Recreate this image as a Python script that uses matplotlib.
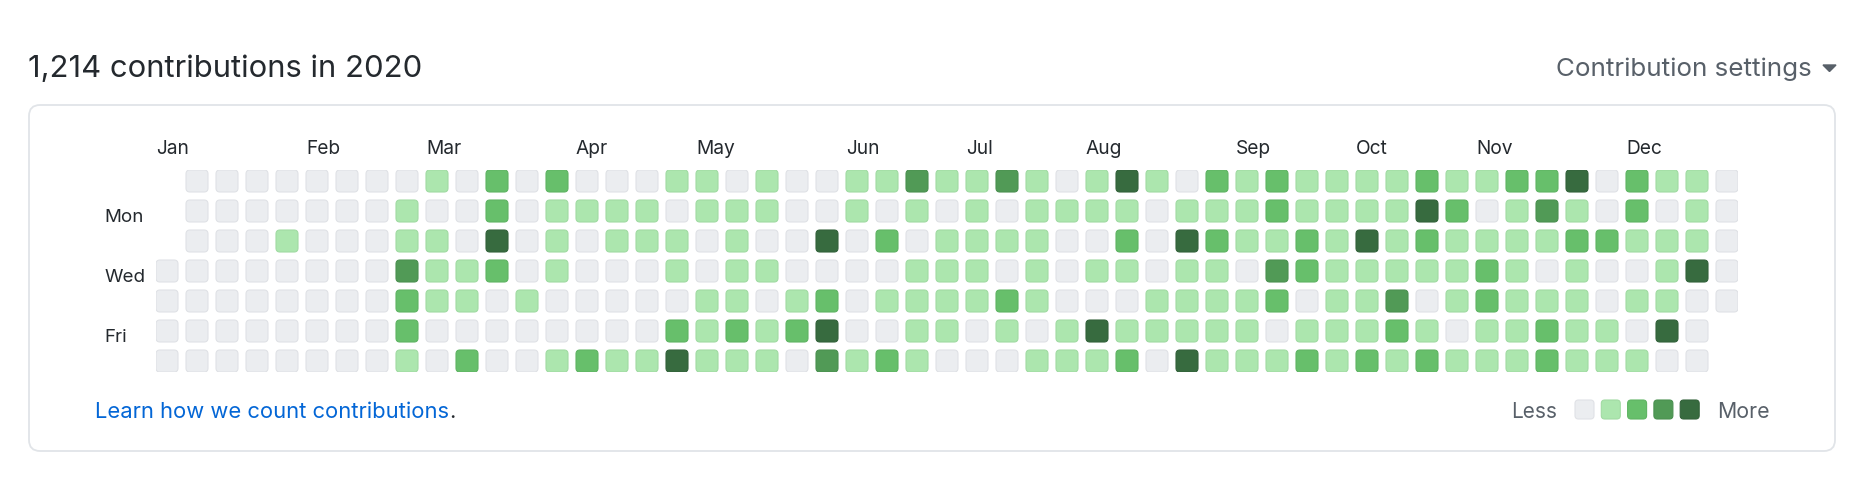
import matplotlib
matplotlib.use("Agg")
import matplotlib.pyplot as plt
from matplotlib.patches import FancyBboxPatch

plt.rcParams['font.family'] = ['Inter', 'DejaVu Sans']

# contribution level per weekday row, one entry per week column (None = no day)
sun = [None, 0, 0, 0, 0, 0, 0, 0, 0, 1, 0, 2, 0, 2, 0, 0, 0, 1, 1, 0, 1, 0, 0, 1, 1, 3, 1,
       1, 3, 1, 0, 1, 4, 1, 0, 2, 1, 2, 1, 1, 1, 1, 2, 1, 1, 2, 2, 4, 0, 2, 1, 1, 0]
mon = [None, 0, 0, 0, 0, 0, 0, 0, 1, 0, 0, 2, 0, 1, 1, 1, 1, 0, 1, 1, 1, 0, 0, 1, 0, 1, 0,
       1, 0, 1, 1, 1, 1, 0, 1, 1, 1, 2, 1, 1, 1, 1, 4, 2, 0, 1, 3, 1, 0, 2, 0, 1, 0]
tue = [None, 0, 0, 0, 1, 0, 0, 0, 1, 1, 0, 4, 0, 1, 0, 1, 1, 1, 0, 1, 0, 0, 4, 0, 2, 0, 1,
       1, 1, 1, 0, 0, 2, 0, 4, 2, 1, 1, 2, 1, 4, 1, 2, 1, 1, 1, 1, 2, 2, 1, 1, 1, 0]
wed = [0, 0, 0, 0, 0, 0, 0, 0, 3, 1, 1, 2, 0, 1, 0, 0, 0, 1, 0, 1, 1, 0, 0, 0, 0, 1, 1,
       1, 0, 1, 0, 1, 1, 0, 1, 1, 0, 3, 2, 1, 1, 1, 1, 1, 2, 1, 0, 1, 0, 0, 1, 4, 0]
thu = [0, 0, 0, 0, 0, 0, 0, 0, 2, 1, 1, 0, 1, 0, 0, 0, 0, 0, 1, 1, 0, 1, 2, 0, 1, 1, 1,
       1, 2, 1, 0, 0, 0, 1, 1, 1, 1, 2, 0, 1, 1, 3, 0, 1, 2, 1, 1, 1, 0, 1, 1, 0, 0]
fri = [0, 0, 0, 0, 0, 0, 0, 0, 2, 0, 0, 0, 0, 0, 0, 0, 0, 2, 1, 2, 1, 2, 4, 0, 0, 1, 1,
       0, 1, 0, 1, 4, 1, 1, 1, 1, 1, 0, 1, 1, 1, 2, 1, 0, 1, 1, 2, 1, 1, 0, 4, 0, None]
sat = [0, 0, 0, 0, 0, 0, 0, 0, 1, 0, 2, 0, 0, 1, 2, 1, 1, 4, 1, 1, 1, 0, 3, 1, 2, 1, 0,
       0, 0, 1, 1, 1, 2, 0, 4, 1, 1, 1, 2, 1, 2, 1, 2, 1, 1, 1, 2, 1, 1, 1, 0, 0, None]

months = ['Jan', 'Feb', 'Mar', 'Apr', 'May', 'Jun', 'Jul', 'Aug', 'Sep', 'Oct', 'Nov', 'Dec']
month_weeks = [0, 5, 9, 14, 18, 23, 27, 31, 36, 40, 44, 49]
day_labels = ['Mon', 'Wed', 'Fri']
day_rows = [1, 3, 5]

total = '1,214'
year = 2020

level_colors = ['#ebedf0', '#ace6ae', '#67bf6b', '#519a56', '#376b3f']
edge_colors = ['#e0e2e6', '#a1dba3', '#5fb463', '#4a9050', '#32623a']

W, H = 1870, 490
fig = plt.figure(figsize=(W / 100, H / 100), dpi=100)

# background axes in pixel units for the page furniture
bg = fig.add_axes([0, 0, 1, 1])
bg.set_xlim(0, W)
bg.set_ylim(H, 0)
bg.axis('off')

bg.text(28, 77, f'{total} contributions in {year}', fontsize=22.3, color='#24292e',
        ha='left', va='baseline')
bg.text(1812, 76, 'Contribution settings', fontsize=18.7, color='#586069',
        ha='right', va='baseline')
bg.fill([1823, 1836, 1829.5], [65, 65, 71.5], color='#586069')

box = FancyBboxPatch((29, 105), 1835 - 29, 451 - 105,
                     boxstyle='round,pad=0,rounding_size=11',
                     facecolor='white', edgecolor='#e1e4e8', linewidth=1.3)
bg.add_patch(box)

link = bg.text(95, 418, 'Learn how we count contributions', fontsize=15.8, color='#0366d6',
               ha='left', va='baseline')
fig.canvas.draw()
ext = link.get_window_extent()
link_end = bg.transData.inverted().transform((ext.x1, ext.y0))[0]
bg.text(link_end, 418, '.', fontsize=15.8, color='#24292e', ha='left', va='baseline')

# legend
bg.text(1557, 418, 'Less', fontsize=15, color='#586069', ha='right', va='baseline')
for i, (fc, ec) in enumerate(zip(level_colors, edge_colors)):
    bg.add_patch(FancyBboxPatch((1575 + 26.3 * i, 400), 19, 19,
                                boxstyle='round,pad=0,rounding_size=3.5',
                                facecolor=fc, edgecolor=ec, linewidth=0.8))
bg.text(1717, 418, 'More', fontsize=15.3, color='#586069', ha='left', va='baseline')

# calendar grid: 1 data unit = one 30px cell pitch
pitch, cell = 30, 22
gap = (pitch - cell) / pitch
n_weeks = len(sun)
gx0, gy0 = 156, 170
gw, gh = pitch * n_weeks - (pitch - cell), pitch * 7 - (pitch - cell)
ax = fig.add_axes([gx0 / W, 1 - (gy0 + gh) / H, gw / W, gh / H])
ax.set_xlim(0, n_weeks - gap)
ax.set_ylim(7 - gap, 0)
ax.axis('off')

rows = [sun, mon, tue, wed, thu, fri, sat]
for r, row in enumerate(rows):
    for w, lvl in enumerate(row):
        if lvl is None:
            continue
        ax.add_patch(FancyBboxPatch((w, r), 1 - gap, 1 - gap,
                                    boxstyle='round,pad=0,rounding_size=0.13',
                                    facecolor=level_colors[lvl],
                                    edgecolor=edge_colors[lvl], linewidth=0.8))

for m, wk in zip(months, month_weeks):
    ax.text(wk, -0.52, m, fontsize=13.8, color='#24292e', ha='left', va='baseline',
            clip_on=False)

for d, r in zip(day_labels, day_rows):
    ax.text(-1.73, r + 0.73, d, fontsize=13.5, color='#24292e', ha='left', va='baseline',
            clip_on=False)

fig.savefig('out.png', dpi=100, facecolor='white')
